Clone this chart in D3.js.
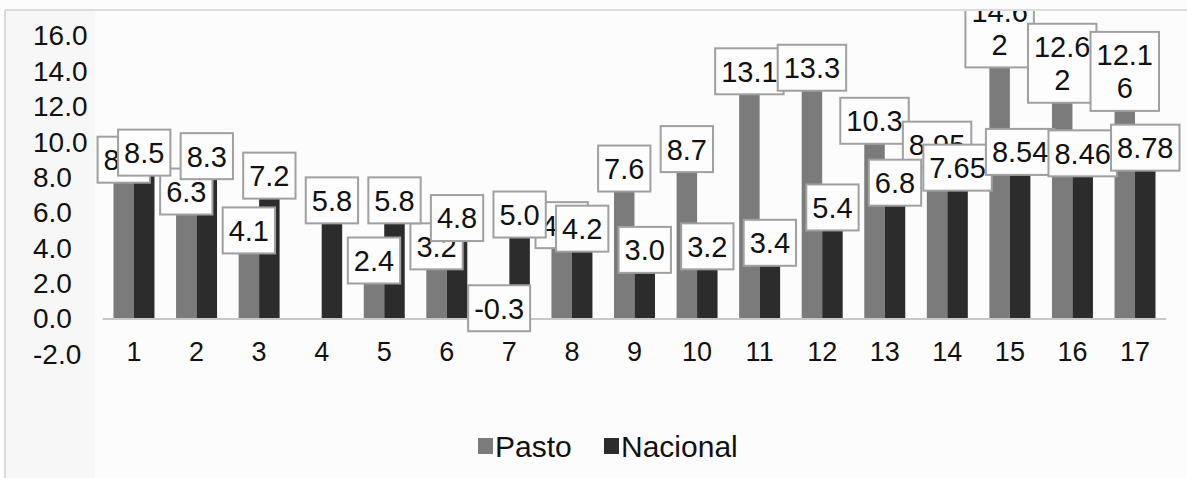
<!DOCTYPE html>
<html>
<head>
<meta charset="utf-8">
<script src="https://cdn.jsdelivr.net/npm/d3@7"></script>
<style>
  html, body { margin: 0; padding: 0; background: #fcfcfc; }
  svg { display: block; font-family: "Liberation Sans", Arial, sans-serif; }
</style>
</head>
<body>
<svg id="chart" width="1187" height="478"></svg>
<script>
// ---- data ----
const categories = ["1","2","3","4","5","6","7","8","9","10","11","12","13","14","15","16","17"];
const seriesNames = ["Pasto", "Nacional"];
const pasto    = [8.1, 6.3, 4.1, null, 2.4, 3.2, -0.3, 4.4, 7.6, 8.7, 13.1, 13.3, 10.3, 8.95, 14.62, 12.62, 12.16];
const nacional = [8.5, 8.3, 7.2, 5.8, 5.8, 4.8, 5.0, 4.2, 3.0, 3.2, 3.4, 5.4, 6.8, 7.65, 8.54, 8.46, 8.78];
const yTicks = [-2, 0, 2, 4, 6, 8, 10, 12, 14, 16];
const colors = ["#7b7b7b", "#2c2c2c"];

const svg = d3.select("#chart");
const W = 1187, H = 478;

// scan-like frame
svg.append("rect").attr("x", 0).attr("y", 0).attr("width", W).attr("height", H).attr("fill", "#fcfcfc");
svg.append("rect").attr("x", 5).attr("y", 10).attr("width", 90).attr("height", H - 10).attr("fill", "#f7f7f7");
svg.append("line").attr("x1", 5).attr("x2", W).attr("y1", 10).attr("y2", 10).attr("stroke", "#d2d2d2").attr("stroke-width", 1.5);
svg.append("line").attr("x1", 5).attr("x2", 5).attr("y1", 10).attr("y2", H).attr("stroke", "#d2d2d2").attr("stroke-width", 1.5);

// scales
const x = d3.scaleBand().domain(categories).range([102.7, 1166.3]).paddingInner(0.345).paddingOuter(0.1725);
const xs = d3.scaleBand().domain(seriesNames).range([0, x.bandwidth()]).padding(0);
const y = d3.scaleLinear().domain([-2, 16]).range([354.3, 36]);

// y axis (left aligned labels, hyphen minus)
const yFmt = v => v.toFixed(1);
const yAxis = svg.append("g").attr("transform", "translate(33,0)")
  .call(d3.axisLeft(y).tickValues(yTicks).tickSize(0).tickFormat(yFmt));
yAxis.select(".domain").remove();
yAxis.selectAll("text")
  .attr("x", 0).attr("dx", 0).attr("text-anchor", "start")
  .attr("font-size", 28).attr("font-family", "Liberation Sans, Arial, sans-serif")
  .attr("fill", "#111");

// bars
const rows = categories.map((c, i) => ({ c, vals: [pasto[i], nacional[i]] }));
const groups = svg.append("g").selectAll("g").data(rows).join("g")
  .attr("transform", d => `translate(${x(d.c)},0)`);
groups.selectAll("rect")
  .data(d => d.vals.map((v, k) => ({ v, k, s: seriesNames[k] })).filter(e => e.v !== null))
  .join("rect")
  .attr("x", e => xs(e.s))
  .attr("width", xs.bandwidth())
  .attr("y", e => y(Math.max(0, e.v)))
  .attr("height", e => Math.abs(y(e.v) - y(0)))
  .attr("fill", e => colors[e.k]);

// baseline
svg.append("line").attr("x1", x.range()[0]).attr("x2", x.range()[1])
  .attr("y1", y(0)).attr("y2", y(0)).attr("stroke", "#c8c8c8").attr("stroke-width", 2);

// x axis
const xAxis = svg.append("g").attr("transform", `translate(0,${y(-2) - 3})`)
  .call(d3.axisBottom(x).tickSize(0));
xAxis.select(".domain").remove();
xAxis.selectAll("text")
  .attr("y", 0).attr("dy", "0.35em")
  .attr("font-size", 27).attr("font-family", "Liberation Sans, Arial, sans-serif")
  .attr("fill", "#111");

// data labels
svg.append("clipPath").attr("id", "plotclip")
  .append("rect").attr("x", 0).attr("y", 11).attr("width", W).attr("height", H);
const labelLayer = svg.append("g").attr("clip-path", "url(#plotclip)");
const fmtLabel = v => (Math.round(v * 100) % 10 === 0 ? v.toFixed(1) : v.toFixed(2));

[pasto, nacional].forEach((arr, k) => {
  arr.forEach((v, i) => {
    if (v === null) return;
    const s = fmtLabel(v);
    const lines = s.length > 4 ? [s.slice(0, 4), s.slice(4)] : [s];
    const cx = x(categories[i]) + xs(seriesNames[k]) + xs.bandwidth() / 2;
    const bottom = y(v) + 7;
    const lh = 33;
    const bh = lines.length * lh + 13;
    const g = labelLayer.append("g");
    const rect = g.append("rect");
    const t = g.append("text").attr("font-size", 29).attr("fill", "#111").attr("text-anchor", "middle");
    lines.forEach((ln, j) => {
      t.append("tspan").attr("x", cx).attr("y", bottom - bh + 6.5 + lh * j + lh / 2).attr("dy", "0.36em").text(ln);
    });
    let tw = 0;
    t.selectAll("tspan").each(function () { tw = Math.max(tw, this.getComputedTextLength()); });
    const bw = tw + 12;
    rect.attr("x", cx - bw / 2).attr("y", bottom - bh).attr("width", bw).attr("height", bh)
      .attr("fill", "#fdfdfd").attr("stroke", "#a0a0a0").attr("stroke-width", 2);
  });
});

// legend
const legend = svg.append("g");
const legendX = [478, 604];
seriesNames.forEach((n, k) => {
  legend.append("rect").attr("x", legendX[k]).attr("y", 438).attr("width", 15).attr("height", 16).attr("fill", colors[k]);
  legend.append("text").attr("x", legendX[k] + 17).attr("y", 446).attr("dy", "0.36em")
    .attr("font-size", 30).attr("fill", "#111").text(n);
});
</script>
</body>
</html>
